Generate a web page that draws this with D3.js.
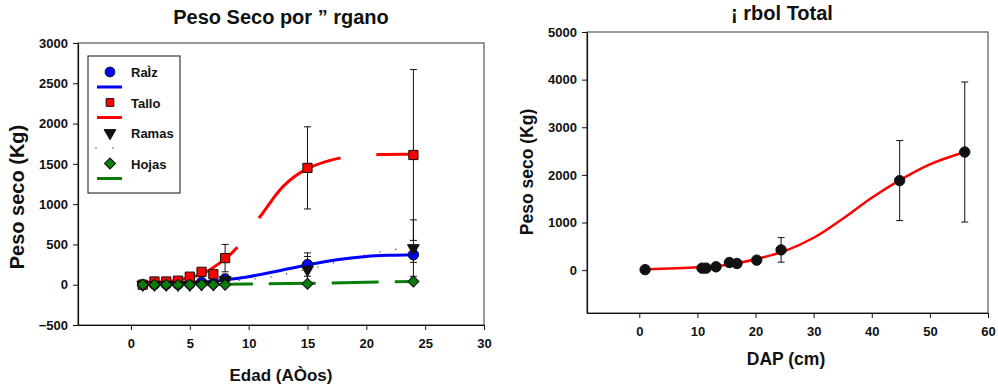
<!doctype html>
<html lang="es">
<head>
<meta charset="utf-8">
<title>Peso seco</title>
<script src="https://cdn.jsdelivr.net/npm/d3@7"></script>
<style>
body { margin: 0; background: #fff; }
svg text { font-family: "Liberation Sans", Arial, sans-serif; font-weight: bold; fill: #111; }
</style>
</head>
<body>
<div id="holder"></div>
<script>

var width = 998;
var height = 388;

// ---- left chart: peso seco por organo vs edad ----
var edad = [1, 2, 3, 4, 5, 6, 7, 8, 15, 24];
var raiz = [0, 5, 5, 5, 10, 30, 15, 70, 250, 372];
var raizErr = [0, 0, 0, 0, 0, 0, 0, 20, 145, 95];
var tallo = [0, 40, 40, 50, 100, 160, 130, 330, 1450, 1610];
var talloErr = [0, 10, 10, 10, 20, 30, 20, 170, 510, 1060];
var ramas = [0, 0, 0, 0, 0, 5, 5, 60, 186, 455];
var ramasErr = [0, 0, 0, 0, 0, 0, 0, 70, 165, 350];
var hojas = [0, 0, 0, 0, 0, 0, 0, 0, 12, 40];
var hojasErr = [0, 0, 0, 0, 0, 0, 0, 0, 10, 15];

// fitted curves
var raizFitX = [1, 3, 5, 7, 8, 10, 12.5, 15, 17.5, 20, 22, 24];
var raizFitY = [5, 10, 20, 40, 60, 100, 170, 245, 310, 350, 365, 372];
var talloFitX = [1, 4, 6, 8, 9, 11, 13, 15, 18, 21, 24];
var talloFitY = [15, 60, 130, 320, 460, 850, 1230, 1440, 1580, 1615, 1620];
var ramasFitX = [1, 8, 12, 14, 16, 18, 20, 22, 24];
var ramasFitY = [0, 40, 100, 160, 225, 300, 370, 430, 460];
var hojasFitX = [1, 10, 15, 20, 24];
var hojasFitY = [0, 8, 18, 30, 40];

var leftXTicks = [0, 5, 10, 15, 20, 25, 30];
var leftYTicks = [-500, 0, 500, 1000, 1500, 2000, 2500, 3000];

// ---- right chart: arbol total vs DAP ----
var dap = [1, 10.8, 11.5, 13.2, 15.5, 16.8, 20.2, 24.4, 44.8, 56];
var total = [10, 42, 42, 70, 160, 140, 210, 425, 1880, 2480];
var totalErr = [0, 0, 0, 0, 0, 0, 0, 258, 840, 1470];
var totalFitX = [1, 10, 15, 20, 25, 30, 35, 40, 45, 50, 56];
var totalFitY = [15, 60, 110, 230, 400, 680, 1080, 1520, 1900, 2220, 2480];

var rightXTicks = [0, 10, 20, 30, 40, 50, 60];
var rightYTicks = [0, 1000, 2000, 3000, 4000, 5000];

var svg = d3.select("#holder").append("svg")
    .attr("width", width)
    .attr("height", height);

function pts(xs, ys) {
	return xs.map(function(x, i) { return [x, ys[i]]; });
}

function drawFrame(g, x, y, xTicks, yTicks, frameColor) {
	var x0 = x.range()[0], x1 = x.range()[1];
	var y0 = y.range()[0], y1 = y.range()[1];
	g.append("rect")
		.attr("x", x0).attr("y", y1)
		.attr("width", x1 - x0).attr("height", y0 - y1)
		.attr("fill", "none").attr("stroke", frameColor).attr("stroke-width", 1.2);

	var xAxis = g.append("g")
		.attr("transform", "translate(0," + y0 + ")")
		.call(d3.axisBottom(x).tickValues(xTicks).tickFormat(d3.format("d"))
			.tickSize(5).tickPadding(9).tickSizeOuter(0));
	var yAxis = g.append("g")
		.attr("transform", "translate(" + x0 + ",0)")
		.call(d3.axisLeft(y).tickValues(yTicks).tickFormat(d3.format("d"))
			.tickSize(5).tickPadding(5).tickSizeOuter(0));
	[xAxis, yAxis].forEach(function(a) {
		a.select(".domain").attr("stroke", "#111").attr("stroke-width", 1.2);
		a.selectAll(".tick line").attr("stroke", "#111");
		a.selectAll(".tick text").attr("font-size", 13).attr("fill", "#111");
	});
}

function errorBars(g, x, y, xs, ys, errs) {
	xs.forEach(function(xv, i) {
		if (!errs[i]) return;
		var cx = x(xv), top = y(ys[i] + errs[i]), bot = y(ys[i] - errs[i]);
		g.append("line").attr("x1", cx).attr("x2", cx).attr("y1", top).attr("y2", bot)
			.attr("stroke", "#111").attr("stroke-width", 1);
		[top, bot].forEach(function(yy) {
			g.append("line").attr("x1", cx - 3.5).attr("x2", cx + 3.5).attr("y1", yy).attr("y2", yy)
				.attr("stroke", "#111").attr("stroke-width", 1);
		});
	});
}

function curve(g, x, y, data, color, w, dash) {
	var line = d3.line()
		.x(function(d) { return x(d[0]); })
		.y(function(d) { return y(d[1]); })
		.curve(d3.curveCatmullRom.alpha(0.5));
	g.append("path")
		.attr("d", line(data))
		.attr("fill", "none")
		.attr("stroke", color)
		.attr("stroke-width", w)
		.attr("stroke-dasharray", dash || null);
}

// triangles point down, diamonds are squares turned 45 degrees
function symbolFor(name) {
	if (name === "circle") return { type: d3.symbolCircle, rot: "" };
	if (name === "square") return { type: d3.symbolSquare, rot: "" };
	if (name === "triangle") return { type: d3.symbolTriangle, rot: " rotate(180)" };
	return { type: d3.symbolSquare, rot: " rotate(45)" };
}

function markers(g, x, y, xs, ys, name, fill, size) {
	var s = symbolFor(name);
	g.selectAll(null)
		.data(pts(xs, ys))
		.enter()
		.append("path")
		.attr("d", d3.symbol().type(s.type).size(size))
		.attr("transform", function(d) {
			return "translate(" + x(d[0]) + "," + y(d[1]) + ")" + s.rot;
		})
		.attr("fill", fill)
		.attr("stroke", "#111")
		.attr("stroke-width", 1);
}

// ================= LEFT =================
var xL = d3.scaleLinear().domain([-4.5, 30]).range([78, 484]);
var yL = d3.scaleLinear().domain([-500, 3000]).range([325, 43]);
var gL = svg.append("g");

drawFrame(gL, xL, yL, leftXTicks, leftYTicks, "#555");

curve(gL, xL, yL, pts(ramasFitX, ramasFitY), "#333", 1.3, "1,15");
curve(gL, xL, yL, pts(hojasFitX, hojasFitY), "#0a7d0a", 3, "47,16");
curve(gL, xL, yL, pts(raizFitX, raizFitY), "#0000ff", 3);
curve(gL, xL, yL, pts(talloFitX, talloFitY), "#ff0000", 3, "105,36");

errorBars(gL, xL, yL, edad, tallo, talloErr);
errorBars(gL, xL, yL, edad, ramas, ramasErr);
errorBars(gL, xL, yL, edad, raiz, raizErr);
errorBars(gL, xL, yL, edad, hojas, hojasErr);

markers(gL, xL, yL, edad, raiz, "circle", "#0000ff", 85);
markers(gL, xL, yL, edad, tallo, "square", "#ff0000", 85);
markers(gL, xL, yL, edad, ramas, "triangle", "#111", 60);
markers(gL, xL, yL, edad, hojas, "diamond", "#0a7d0a", 60);

gL.append("text")
	.attr("x", 281).attr("y", 24)
	.attr("text-anchor", "middle").attr("font-size", 20)
	.text("Peso Seco por \u201D rgano");
gL.append("text")
	.attr("x", 281).attr("y", 381)
	.attr("text-anchor", "middle").attr("font-size", 17)
	.text("Edad (A\u00D2os)");
gL.append("text")
	.attr("transform", "translate(24,197) rotate(-90)")
	.attr("text-anchor", "middle").attr("font-size", 20)
	.text("Peso seco (Kg)");

// legend
var leg = gL.append("g");
leg.append("rect")
	.attr("x", 88).attr("y", 56).attr("width", 92).attr("height", 137)
	.attr("fill", "#fff").attr("stroke", "#111").attr("stroke-width", 1);
var legNames = ["Ra\u00CCz", "Tallo", "Ramas", "Hojas"];
var legSymbols = ["circle", "square", "triangle", "diamond"];
var legFills = ["#0000ff", "#ff0000", "#111", "#0a7d0a"];
var legLines = ["#0000ff", "#ff0000", "#333", "#0a7d0a"];
legNames.forEach(function(name, i) {
	var yy = 72 + i * 30.5;
	var s = symbolFor(legSymbols[i]);
	leg.append("path")
		.attr("d", d3.symbol().type(s.type).size(i === 0 ? 75 : 60))
		.attr("transform", "translate(110," + yy + ")" + s.rot)
		.attr("fill", legFills[i]).attr("stroke", "#111").attr("stroke-width", 1);
	leg.append("text")
		.attr("x", 131).attr("y", yy + 5).attr("font-size", 13)
		.text(name);
	leg.append("line")
		.attr("x1", i === 2 ? 95.5 : 97).attr("x2", i === 2 ? 114 : 122)
		.attr("y1", yy + 15).attr("y2", yy + 15)
		.attr("stroke", legLines[i])
		.attr("stroke-width", i === 2 ? 1.3 : 3)
		.attr("stroke-dasharray", i === 2 ? "1,16" : null);
});

// ================= RIGHT =================
var xR = d3.scaleLinear().domain([-9, 60]).range([587, 988]);
var yR = d3.scaleLinear().domain([-900, 5000]).range([313, 32]);
var gR = svg.append("g");

drawFrame(gR, xR, yR, rightXTicks, rightYTicks, "#555");

errorBars(gR, xR, yR, dap, total, totalErr);
curve(gR, xR, yR, pts(totalFitX, totalFitY), "#ff0000", 2.5);
markers(gR, xR, yR, dap, total, "circle", "#111", 85);

gR.append("text")
	.attr("x", 782).attr("y", 20)
	.attr("text-anchor", "middle").attr("font-size", 20)
	.text("\u00A1 rbol Total");
gR.append("text")
	.attr("x", 786).attr("y", 365)
	.attr("text-anchor", "middle").attr("font-size", 17.5)
	.text("DAP (cm)");
gR.append("text")
	.attr("transform", "translate(533,172) rotate(-90)")
	.attr("text-anchor", "middle").attr("font-size", 17.5)
	.text("Peso seco (Kg)");

</script>
</body>
</html>
